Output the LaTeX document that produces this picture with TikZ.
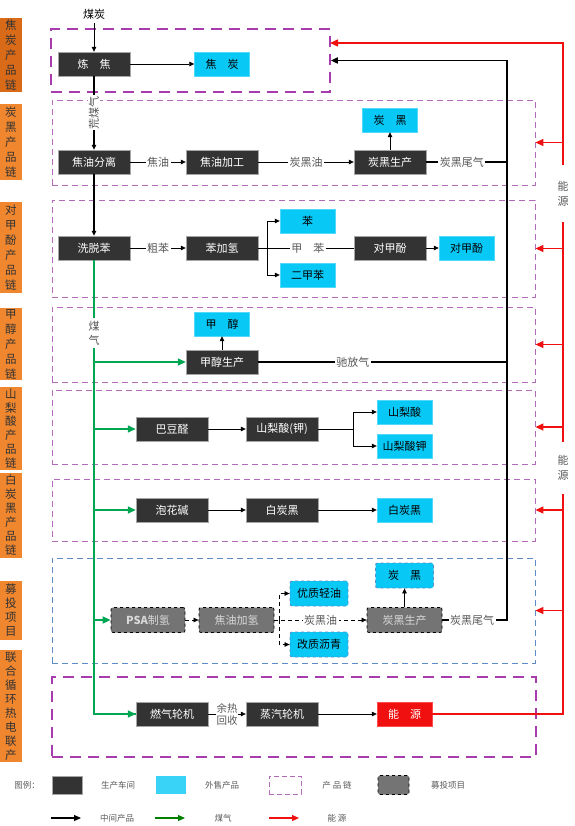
\documentclass[tikz,border=0pt]{standalone}
\usepackage{fontspec}
\setmainfont{Noto Sans CJK SC}
\usetikzlibrary{arrows.meta,calc,positioning}
\definecolor{shopgray}{HTML}{333333}
\definecolor{salecyan}{HTML}{08C8F6}
\definecolor{projgray}{HTML}{747474}
\definecolor{tagorange}{HTML}{F0862E}
\definecolor{tagdark}{HTML}{D96A18}
\definecolor{chainpurple}{HTML}{B36AB8}
\definecolor{chainthick}{HTML}{A83CAE}
\definecolor{projblue}{HTML}{5F8CC4}
\definecolor{gasgreen}{HTML}{00A651}
\definecolor{powerred}{HTML}{F01010}

\begin{document}
\begin{tikzpicture}[x=1pt,y=-1pt,
  font=\fontsize{11}{13}\selectfont,
  shop/.style={draw=gray!70,fill=shopgray,text=white,minimum width=72,minimum height=24,inner sep=0pt},
  sale/.style={draw=salecyan!70!white,fill=salecyan,text=black,minimum width=55,minimum height=24,inner sep=0pt},
  proj/.style={draw=black,dashed,thick,fill=projgray,text=black!15,rounded corners=2pt,minimum width=74,minimum height=25,inner sep=0pt},
  salep/.style={sale,draw=projblue,dashed,thick,rounded corners=2pt,minimum width=58,minimum height=25},
  energy/.style={draw=red!70,fill=powerred,text=white,minimum width=55,minimum height=24,inner sep=0pt},
  tag/.style={fill=tagorange,text=black!80,minimum width=22,inner sep=0pt,align=center,font=\fontsize{11.5}{15}\selectfont},
  chain/.style={draw=chainpurple,dash pattern=on 6pt off 4pt,line width=0.9pt,inner sep=0pt},
  chainbold/.style={draw=chainthick,dash pattern=on 11pt off 7pt,line width=1.6pt,inner sep=0pt},
  lbl/.style={fill=white,text=black!65,inner sep=1.5pt},
  arr/.style={-{Triangle[length=5pt,width=4.5pt]},line width=0.7pt},
  darr/.style={arr,dash pattern=on 4pt off 3pt},
  bus/.style={line width=1.6pt},
  gas/.style={gasgreen,line width=1.4pt},
  power/.style={powerred,line width=1.4pt},
  tipbig/.style={-{Triangle[length=8pt,width=7pt]}}
]
\useasboundingbox (0,0) rectangle (574,826);

% product chain labels
\node[tag,fill=tagdark,minimum height=74] (t1) at (11,55) {焦\\炭\\产\\品\\链};
\node[tag,minimum height=76] (t2) at (11,142) {炭\\黑\\产\\品\\链};
\node[tag,minimum height=91] (t3) at (11,247.5) {对\\甲\\酚\\产\\品\\链};
\node[tag,minimum height=72] (t4) at (11,344) {甲\\醇\\产\\品\\链};
\node[tag,minimum height=83,font=\fontsize{11.5}{13.8}\selectfont] (t5) at (11,428.5) {山\\梨\\酸\\产\\品\\链};
\node[tag,minimum height=85,font=\fontsize{11.5}{14}\selectfont] (t6) at (11,515.5) {白\\炭\\黑\\产\\品\\链};
\node[tag,minimum height=59,font=\fontsize{11.5}{14}\selectfont] (t7) at (11,610.5) {募\\投\\项\\目};
\node[tag,minimum height=112,font=\fontsize{11.5}{14}\selectfont] (t8) at (11,706) {联\\合\\循\\环\\热\\电\\联\\产};

% chain frames
\node[chainbold,minimum width=279,minimum height=63] (c1) at (190.5,60.5) {};
\node[chain,minimum width=483,minimum height=85] (c2) at (293.5,142.5) {};
\node[chain,minimum width=483,minimum height=97] (c3) at (293.5,248.5) {};
\node[chain,minimum width=483,minimum height=75] (c4) at (293.5,344.5) {};
\node[chain,minimum width=483,minimum height=74] (c5) at (293.5,427) {};
\node[chain,minimum width=483,minimum height=62] (c6) at (293.5,510) {};
\node[chain,draw=projblue,minimum width=483,minimum height=105] (c7) at (293.5,610.5) {};
\node[chainbold,minimum width=484,minimum height=80] (c8) at (294,717) {};

\coordinate (bx) at (507,0);
\coordinate (rx) at (563,0);

% coke
\node (coal) at (94,14) {煤炭};
\node[shop] (lj) at (94,64) {炼\quad 焦};
\node[sale] (jt) at (222,64) {焦\quad 炭};
\draw[arr] (coal) -- (lj);
\draw[arr] (lj) -- (jt);

% carbon black
\node[shop] (jyfl) at (94,162) {焦油分离};
\node[shop] (jyjg) at (222,162) {焦油加工};
\node[shop] (thsc) at (390,162) {炭黑生产};
\node[sale] (th) at (390,120) {炭\quad 黑};
\draw[arr,line width=1.4pt] (lj) -- node[lbl,rotate=90,inner sep=1pt] {荒煤气} (jyfl);
\draw[arr] (jyfl) -- node[lbl] {焦油} (jyjg);
\draw[arr] (jyjg) -- node[lbl] {炭黑油} (thsc);
\draw[arr] (thsc) -- (th);

% p-cresol
\node[shop] (xtb) at (94,248) {洗脱苯};
\node[shop] (bjq) at (222,248) {苯加氢};
\node[sale] (ben) at (307.5,221) {苯};
\node[sale] (ejb) at (307.5,275) {二甲苯};
\node[shop] (djf) at (390,248) {对甲酚};
\node[sale] (djfp) at (466.5,248) {对甲酚};
\coordinate (k1) at (267,248);
\draw[arr,line width=1.4pt] (jyfl) -- (xtb);
\draw[arr] (xtb) -- node[lbl] {粗苯} (bjq);
\draw[line width=0.7pt] (bjq) -- (k1);
\draw[arr] (k1) |- (ben);
\draw[arr] (k1) |- (ejb);
\draw[line width=0.7pt] (k1) -- node[lbl,pos=0.47] {甲\quad 苯} (djf);
\draw[arr] (djf) -- (djfp);

% methanol
\node[shop] (mcsc) at (222,362) {甲醇生产};
\node[sale] (mc) at (222,324) {甲\quad 醇};
\draw[arr] (mcsc) -- (mc);

% sorbic acid
\node[shop] (bdq) at (172,429) {巴豆醛};
\node[shop] (sls) at (282,429) {山梨酸(钾)};
\node[sale] (slsp) at (404.5,412) {山梨酸};
\node[sale] (slsj) at (404.5,446) {山梨酸钾};
\coordinate (k2) at (353,429);
\draw[arr] (bdq) -- (sls);
\draw[line width=0.7pt] (sls) -- (k2);
\draw[arr] (k2) |- (slsp);
\draw[arr] (k2) |- (slsj);

% white carbon black
\node[shop] (phj) at (172,510) {泡花碱};
\node[shop] (bth) at (282,510) {白炭黑};
\node[sale] (bthp) at (404.5,510) {白炭黑};
\draw[arr] (phj) -- (bth);
\draw[arr] (bth) -- (bthp);

% investment projects
\node[proj] (psa) at (148,620) {\textbf{PSA}制氢};
\node[proj,minimum width=75] (jyjq) at (236.5,620) {焦油加氢};
\node[salep] (yzqy) at (319,593.5) {优质轻油};
\node[salep] (gzlq) at (319,644.5) {改质沥青};
\node[proj,minimum width=75] (thscp) at (404.5,620) {炭黑生产};
\node[salep] (thp) at (404.5,575.5) {炭\quad 黑};
\coordinate (k3) at (279,620);
\draw[darr] (psa) -- (jyjq);
\draw[darr] (k3) |- (yzqy);
\draw[darr] (k3) |- (gzlq);
\draw[darr] (jyjq) -- node[lbl,pos=0.5] {炭黑油} (thscp);
\draw[arr] (thscp) -- (thp);

% combined cycle
\node[shop] (rqlj) at (172,714) {燃气轮机};
\node[shop] (zqlj) at (282,714) {蒸汽轮机};
\node[energy] (ny) at (404.5,714) {能\quad 源};
\draw[arr] (rqlj) -- node[lbl,align=center,inner sep=0.5pt,font=\fontsize{10.5}{12}\selectfont] {余热\\回收} (zqlj);
\draw[arr] (zqlj) -- (ny);

% coal gas
\draw[gas] (xtb) -- (xtb.south |- rqlj.west) -- (rqlj.west);
\node[lbl,align=center,font=\fontsize{11}{14}\selectfont,minimum height=30] at (94,333) {煤\\气};
\foreach \n in {mcsc,bdq,phj,psa,rqlj}
  \draw[gas,tipbig] (xtb.south |- \n.west) -- (\n.west);

% tail gas back to coking
\draw[bus] (thsc) -- node[lbl,pos=0.44] {炭黑尾气} (thsc -| bx);
\draw[bus] (mcsc) -- node[lbl,pos=0.38] {驰放气} (mcsc -| bx);
\draw[bus,-{Triangle[length=7pt,width=6pt]}] (thscp) -- node[lbl,pos=0.46] {炭黑尾气} (thscp -| bx) -- (bx |- c1.east) -- (c1.east);

% energy
\coordinate (c1r) at (330,43);
\draw[power,tipbig] (ny) -- (ny -| rx) -- (rx |- c1r) -- (c1r);
\foreach \c in {c2,c3,c4,c5,c6,c7}
  \draw[power,tipbig] (rx |- \c.east) -- (\c.east);
\node[lbl,align=center,minimum height=57,font=\fontsize{11}{15}\selectfont] (ny1) at (563,193.5) {能\\源};
\node[lbl,align=center,minimum height=52,font=\fontsize{11}{15}\selectfont] (ny2) at (563,468) {能\\源};

% legend
\begin{scope}[font=\fontsize{8.5}{10}\selectfont]
\node[text=black!65] (lg) at (27,785) {图例：};
\node[shop,minimum width=30,minimum height=18] (lg1) at (67,785) {};
\node[text=black!65] at (118,785) {生产车间};
\node[sale,fill=salecyan!80!white,draw=none,minimum width=30,minimum height=18] (lg2) at (171,785) {};
\node[text=black!65] at (222,785) {外售产品};
\node[chain,minimum width=32,minimum height=18,dash pattern=on 5pt off 3pt] (lg3) at (285,785) {};
\node[text=black!65] at (337,785) {产\ 品\ 链};
\node[proj,minimum width=31,minimum height=19] (lg4) at (393.5,785) {};
\node[text=black!65] at (448,785) {募投项目};
\coordinate (la1) at (51,818);
\coordinate (la2) at (155,818);
\coordinate (la3) at (269,818);
\draw[line width=1.2pt,-{Triangle[length=7pt,width=6pt]}] (la1) -- ++(30,0);
\draw[line width=1.2pt,green!50!black,-{Triangle[length=7pt,width=6pt]}] (la2) -- ++(30,0);
\draw[line width=1.2pt,powerred,-{Triangle[length=7pt,width=6pt]}] (la3) -- ++(30,0);
\node[text=black!65] at (117,818) {中间产品};
\node[text=black!65] at (223,818) {煤气};
\node[text=black!65] at (337,818) {能\ 源};
\end{scope}
\end{tikzpicture}
\end{document}
